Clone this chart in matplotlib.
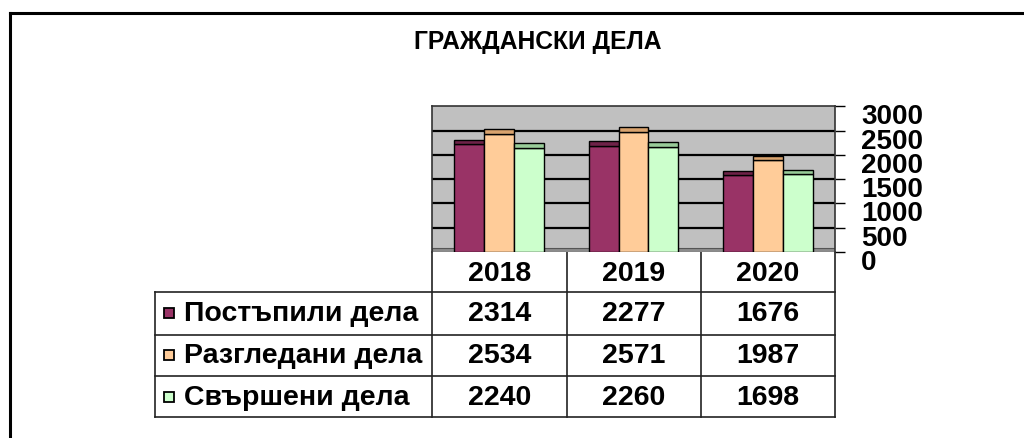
import matplotlib
matplotlib.use("Agg")
import matplotlib.pyplot as plt
from matplotlib.patches import Rectangle
from matplotlib.transforms import offset_copy
import numpy as np

plt.rcParams["font.family"] = ["Liberation Sans", "DejaVu Sans"]

TITLE = "ГРАЖДАНСКИ ДЕЛА"
years = ["2018", "2019", "2020"]
series = ["Постъпили дела", "Разгледани дела", "Свършени дела"]
received = [2314, 2277, 1676]
reviewed = [2534, 2571, 1987]
finished = [2240, 2260, 1698]
yticks = [0, 500, 1000, 1500, 2000, 2500, 3000]

FACE = ["#993366", "#ffcc99", "#ccffcc"]
TOP = ["#6e2248", "#d9a36e", "#99cc99"]
WALL, FLOOR = "#c0c0c0", "#8c8c8c"

W, H = 1024, 439
fig = plt.figure(figsize=(W / 100, H / 100), dpi=100, facecolor="white")


def frac(x0, y0, x1, y1):
    return [x0 / W, 1 - y1 / H, (x1 - x0) / W, (y1 - y0) / H]


# chart area (back wall)
ax = fig.add_axes(frac(432, 107.4, 835, 253))
ax.set_facecolor(WALL)
ax.set_xlim(-0.5, 2.5)
ax.set_ylim(0, 3000)
for sp in ax.spines.values():
    sp.set_color("#333333")
    sp.set_linewidth(1.2)
ax.spines["bottom"].set_visible(False)
for v in yticks[1:-1]:
    ax.axhline(v, color="black", lw=1.6, zorder=1)
ax.add_patch(Rectangle((-0.5, 0), 3, 85, facecolor=FLOOR, edgecolor="#555555", lw=0.8, zorder=1.5))

x = np.arange(len(years))
bw = 0.223
depth = 95
for i, vals in enumerate([received, reviewed, finished]):
    xs = x + (i - 1) * bw
    fronts = [v - depth for v in vals]
    ax.bar(xs, fronts, width=bw, color=FACE[i], edgecolor="black", lw=1.0, zorder=3)
    ax.bar(xs, [depth] * len(vals), bottom=fronts, width=bw, color=TOP[i],
           edgecolor="black", lw=1.0, zorder=3)

ax.set_xticks([])
ax.set_yticks(yticks)
ax.yaxis.tick_right()
ax.tick_params(axis="y", length=7, width=1.0, color="black", direction="out", labelright=False)
lab_tr = offset_copy(ax.get_yaxis_transform(), fig=fig, x=26, y=-10, units="dots")
for v in yticks:
    ax.text(1.0, v, str(v), transform=lab_tr, ha="left", va="center",
            fontsize=20, fontweight="bold", color="black")

# overlay in pixel coordinates for frame, title and data table
ov = fig.add_axes([0, 0, 1, 1], zorder=-1)
ov.set_xlim(0, W)
ov.set_ylim(H, 0)
ov.axis("off")

ov.plot([10, 10], [13.5, H], color="black", lw=2.2)
ov.plot([10, W], [13.5, 13.5], color="black", lw=2.2)

ov.text(538, 42, TITLE, ha="center", va="center", fontsize=17.7, fontweight="bold")

cols = [432, 566.7, 701, 835]
rows = [293.3, 335.5, 377.3, 418.5]
lc = "#222222"
for cx in cols:
    ov.plot([cx, cx], [253, rows[-1]], color=lc, lw=1.2)
ov.plot([155, 155], [rows[0], rows[-1]], color=lc, lw=1.2)
for ry in rows:
    ov.plot([155, 835], [ry, ry], color=lc, lw=1.2)

for j, yr in enumerate(years):
    cxm = (cols[j] + cols[j + 1]) / 2
    ov.text(cxm, 274, yr, ha="center", va="center", fontsize=20.5, fontweight="bold")

for i, (name, vals) in enumerate(zip(series, [received, reviewed, finished])):
    ym = (rows[i] + rows[i + 1]) / 2
    ov.add_patch(Rectangle((164, ym - 5), 9.5, 10, facecolor=FACE[i], edgecolor="black", lw=1.3))
    ov.text(184, ym, name, ha="left", va="center", fontsize=20.5, fontweight="bold")
    for j, v in enumerate(vals):
        cxm = (cols[j] + cols[j + 1]) / 2
        ov.text(cxm, ym, str(v), ha="center", va="center", fontsize=20.5, fontweight="bold")

fig.savefig("out.png", dpi=100, facecolor="white")
